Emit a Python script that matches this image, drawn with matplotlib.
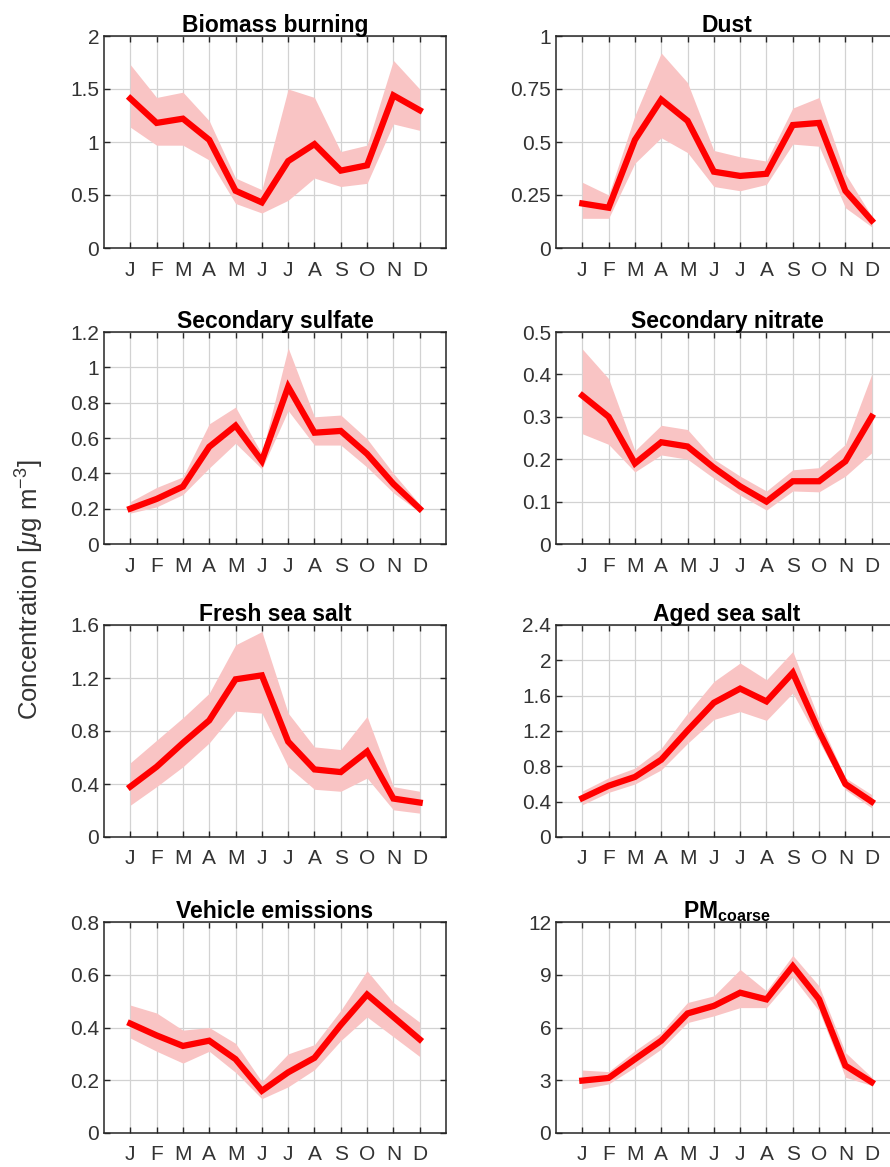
import numpy as np
import matplotlib
matplotlib.use("Agg")
import matplotlib.pyplot as plt

plt.rcParams['font.family'] = ['Liberation Sans', 'DejaVu Sans']
plt.rcParams['mathtext.fontset'] = 'custom'
plt.rcParams['mathtext.rm'] = 'Liberation Sans'
plt.rcParams['mathtext.it'] = 'Liberation Sans:italic'
plt.rcParams['mathtext.bf'] = 'Liberation Sans:bold'

months = ['J', 'F', 'M', 'A', 'M', 'J', 'J', 'A', 'S', 'O', 'N', 'D']

titles = ['Biomass burning', 'Dust', 'Secondary sulfate', 'Secondary nitrate',
          'Fresh sea salt', 'Aged sea salt', 'Vehicle emissions', r'$\mathbf{PM_{coarse}}$']

# monthly mean and band (upper / lower)
biomass_mean = [1.41, 1.18, 1.22, 1.02, 0.54, 0.43, 0.82, 0.98, 0.73, 0.78, 1.44, 1.30]
biomass_up = [1.73, 1.42, 1.47, 1.20, 0.66, 0.55, 1.50, 1.42, 0.91, 0.97, 1.77, 1.50]
biomass_lo = [1.14, 0.97, 0.97, 0.83, 0.42, 0.33, 0.45, 0.66, 0.58, 0.61, 1.17, 1.11]

dust_mean = [0.21, 0.19, 0.51, 0.70, 0.60, 0.36, 0.34, 0.35, 0.58, 0.59, 0.27, 0.13]
dust_up = [0.31, 0.25, 0.625, 0.92, 0.78, 0.46, 0.43, 0.41, 0.66, 0.71, 0.35, 0.15]
dust_lo = [0.14, 0.14, 0.40, 0.52, 0.45, 0.29, 0.27, 0.30, 0.49, 0.48, 0.19, 0.10]

sulfate_mean = [0.20, 0.255, 0.325, 0.55, 0.67, 0.47, 0.89, 0.63, 0.64, 0.51, 0.34, 0.20]
sulfate_up = [0.24, 0.32, 0.38, 0.68, 0.775, 0.51, 1.11, 0.72, 0.73, 0.595, 0.40, 0.225]
sulfate_lo = [0.175, 0.21, 0.28, 0.43, 0.57, 0.425, 0.755, 0.56, 0.56, 0.435, 0.29, 0.18]

nitrate_mean = [0.35, 0.30, 0.19, 0.24, 0.23, 0.18, 0.136, 0.10, 0.148, 0.148, 0.195, 0.30]
nitrate_up = [0.46, 0.39, 0.22, 0.28, 0.27, 0.20, 0.16, 0.125, 0.175, 0.18, 0.235, 0.40]
nitrate_lo = [0.26, 0.235, 0.17, 0.21, 0.20, 0.155, 0.115, 0.08, 0.125, 0.123, 0.16, 0.215]

fresh_mean = [0.38, 0.53, 0.71, 0.88, 1.19, 1.22, 0.72, 0.51, 0.49, 0.645, 0.29, 0.26]
fresh_up = [0.56, 0.73, 0.90, 1.085, 1.45, 1.55, 0.935, 0.68, 0.66, 0.91, 0.38, 0.345]
fresh_lo = [0.24, 0.38, 0.53, 0.71, 0.95, 0.935, 0.53, 0.36, 0.345, 0.445, 0.205, 0.18]

aged_mean = [0.44, 0.58, 0.68, 0.875, 1.205, 1.52, 1.68, 1.535, 1.86, 1.195, 0.60, 0.40]
aged_up = [0.52, 0.67, 0.78, 1.005, 1.40, 1.76, 1.97, 1.78, 2.10, 1.33, 0.67, 0.48]
aged_lo = [0.365, 0.505, 0.60, 0.76, 1.06, 1.33, 1.42, 1.32, 1.63, 1.08, 0.535, 0.33]

vehicle_mean = [0.415, 0.37, 0.33, 0.35, 0.28, 0.16, 0.23, 0.285, 0.41, 0.525, 0.44, 0.355]
vehicle_up = [0.485, 0.455, 0.39, 0.40, 0.34, 0.195, 0.30, 0.335, 0.465, 0.615, 0.495, 0.42]
vehicle_lo = [0.36, 0.31, 0.265, 0.31, 0.23, 0.13, 0.175, 0.24, 0.35, 0.44, 0.365, 0.29]

pmc_mean = [2.98, 3.13, 4.2, 5.25, 6.8, 7.23, 7.98, 7.6, 9.49, 7.6, 3.83, 2.89]
pmc_up = [3.58, 3.49, 4.68, 5.72, 7.42, 7.8, 9.3, 8.08, 10.1, 8.36, 4.58, 3.17]
pmc_lo = [2.51, 2.79, 3.74, 4.77, 6.28, 6.66, 7.13, 7.13, 8.87, 6.94, 3.17, 2.70]

series = [(biomass_mean, biomass_up, biomass_lo), (dust_mean, dust_up, dust_lo),
          (sulfate_mean, sulfate_up, sulfate_lo), (nitrate_mean, nitrate_up, nitrate_lo),
          (fresh_mean, fresh_up, fresh_lo), (aged_mean, aged_up, aged_lo),
          (vehicle_mean, vehicle_up, vehicle_lo), (pmc_mean, pmc_up, pmc_lo)]

yticks = [[0, 0.5, 1, 1.5, 2], [0, 0.25, 0.5, 0.75, 1],
          [0, 0.2, 0.4, 0.6, 0.8, 1, 1.2], [0, 0.1, 0.2, 0.3, 0.4, 0.5],
          [0, 0.4, 0.8, 1.2, 1.6], [0, 0.4, 0.8, 1.2, 1.6, 2, 2.4],
          [0, 0.2, 0.4, 0.6, 0.8], [0, 3, 6, 9, 12]]

W, H = 890, 1167
fig = plt.figure(figsize=(W / 100, H / 100), dpi=100)

# axes boxes in pixels (right column runs past the right edge, as in the original crop)
col_x = [104, 556]
row_top = [36, 332, 625, 922]
row_bot = [248, 544, 837, 1133]
ax_w = 342

x = np.arange(1, 13)
dark = '#262626'

for k, (mean, up, lo) in enumerate(series):
    r, c = divmod(k, 2)
    ax = fig.add_axes([col_x[c] / W, 1 - row_bot[r] / H, ax_w / W, (row_bot[r] - row_top[r]) / H])
    ax.fill_between(x, lo, up, color='#f9c4c4', lw=0, zorder=2)
    ax.plot(x, mean, color='#ff0000', lw=4.5, zorder=3, solid_joinstyle='miter')
    ax.set_xlim(0, 13)
    ax.set_ylim(yticks[k][0], yticks[k][-1])
    ax.set_xticks(x)
    ax.set_xticklabels(months)
    ax.set_yticks(yticks[k])
    ax.set_yticklabels(['%g' % t for t in yticks[k]])
    ax.grid(True, color='#d2d2d2', lw=0.9, zorder=0)
    ax.set_axisbelow(True)
    ax.tick_params(direction='in', top=True, right=True, length=4, width=1,
                   color=dark, labelcolor='#333333', labelsize=15)
    ax.tick_params(axis='x', pad=9)
    for s in ax.spines.values():
        s.set_color(dark)
        s.set_linewidth(1.1)
    ax.set_title(titles[k], fontsize=16.5, fontweight='bold', pad=3, color='black')

fig.text(30 / W, 0.495, r'Concentration [$\mathit{\mu}$g m$^{-3}$]', rotation=90,
         ha='center', va='center', fontsize=18.5, color='#333333')

fig.savefig('out.png', dpi=100)
